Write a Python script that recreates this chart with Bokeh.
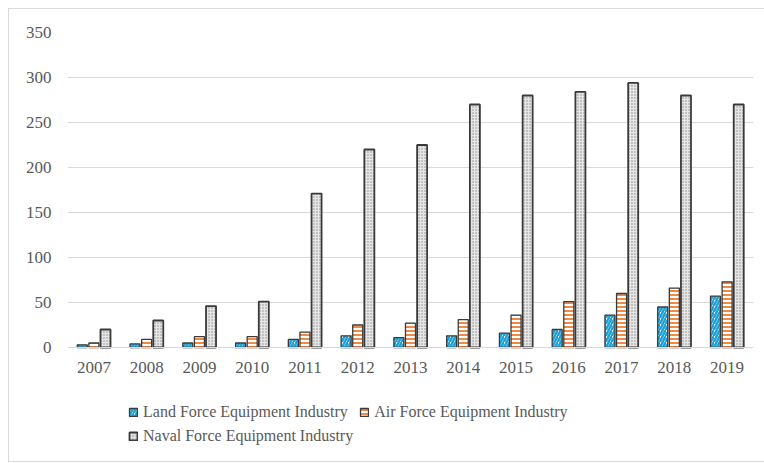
from bokeh.plotting import figure
from bokeh.models import ColumnDataSource, FactorRange, Range1d, Legend, LegendItem, FixedTicker
from bokeh.transform import dodge
from bokeh.embed import file_html
from bokeh.resources import INLINE

years = ["2007", "2008", "2009", "2010", "2011", "2012", "2013",
         "2014", "2015", "2016", "2017", "2018", "2019"]
land = [3, 4, 5, 5, 9, 13, 11, 13, 16, 20, 36, 45, 57]
air = [5, 9, 12, 12, 17, 25, 27, 31, 36, 51, 60, 66, 73]
naval = [20, 30, 46, 51, 171, 220, 225, 270, 280, 284, 294, 280, 270]
y_ticks = [0, 50, 100, 150, 200, 250, 300, 350]
series_names = ["Land Force Equipment Industry", "Air Force Equipment Industry",
                "Naval Force Equipment Industry"]

src = ColumnDataSource(dict(year=years, land=land, air=air, naval=naval))

FONT = "Liberation Serif"
TXT = "#595959"
LINE = "#d9d9d9"

# frame spans y=32..462 px; 0 sits at y=347 px (0.9 px per unit), room below for labels/legend
p = figure(x_range=FactorRange(factors=years, range_padding=0),
           y_range=Range1d(-127.8, 350), width=764, height=463,
           output_backend="svg", toolbar_location=None,
           min_border_left=67, min_border_right=11,
           min_border_top=32, min_border_bottom=1)

outline = "#3a3a3a"
r1 = p.vbar(x=dodge("year", -0.22, range=p.x_range), top="land", width=0.19, source=src,
            fill_color="white", line_color=outline, line_width=1.3,
            hatch_pattern="/", hatch_color="#1ba1d6", hatch_weight=2.4, hatch_scale=6)
r2 = p.vbar(x=dodge("year", 0.0, range=p.x_range), top="air", width=0.19, source=src,
            fill_color="white", line_color=outline, line_width=1.3,
            hatch_pattern="-", hatch_color="#ed7d31", hatch_weight=1.8, hatch_scale=4)
r3 = p.vbar(x=dodge("year", 0.22, range=p.x_range), top="naval", width=0.19, source=src,
            fill_color="#e6e6e6", line_color=outline, line_width=1.8,
            hatch_pattern=".", hatch_color="#8c8c8c", hatch_weight=1, hatch_scale=3)

p.xgrid.grid_line_color = None
p.ygrid.grid_line_color = LINE
p.ygrid.grid_line_width = 1.2
p.outline_line_color = None
p.border_fill_alpha = 0
p.background_fill_alpha = 0
p.styles = {"background": (
    f"linear-gradient({LINE},{LINE}) 8px 8px / 1px 454px no-repeat, "
    f"linear-gradient({LINE},{LINE}) 8px 8px / 756px 1px no-repeat, "
    f"linear-gradient({LINE},{LINE}) 8px 461px / 756px 1px no-repeat, white")}

p.yaxis.ticker = FixedTicker(ticks=y_ticks)
p.yaxis.axis_line_color = None
p.yaxis.major_tick_line_color = None
p.yaxis.minor_tick_line_color = None
p.yaxis.major_tick_out = 0
p.yaxis.major_label_standoff = 16
p.xaxis.fixed_location = 0
p.xaxis.axis_line_color = LINE
p.xaxis.axis_line_width = 1.2
p.xaxis.major_tick_line_color = None
p.xaxis.major_tick_out = 0
p.xaxis.major_label_standoff = 15
for ax in (p.xaxis, p.yaxis):
    ax.major_label_text_font = FONT
    ax.major_label_text_font_size = "17px"
    ax.major_label_text_color = TXT

# column-major fill with ncols=2 -> row 1: Land, Air; row 2: Naval
legend = Legend(items=[LegendItem(label=series_names[0], renderers=[r1]),
                       LegendItem(label=series_names[2], renderers=[r3]),
                       LegendItem(label=series_names[1], renderers=[r2])],
                ncols=2, location=(61, 17), padding=0, margin=0, spacing=6,
                glyph_width=10, glyph_height=10, label_standoff=5,
                label_text_font=FONT, label_text_font_size="16px",
                label_text_color=TXT, border_line_color=None,
                background_fill_alpha=0)
p.add_layout(legend)

open("out.html", "w").write(file_html(p, INLINE))
